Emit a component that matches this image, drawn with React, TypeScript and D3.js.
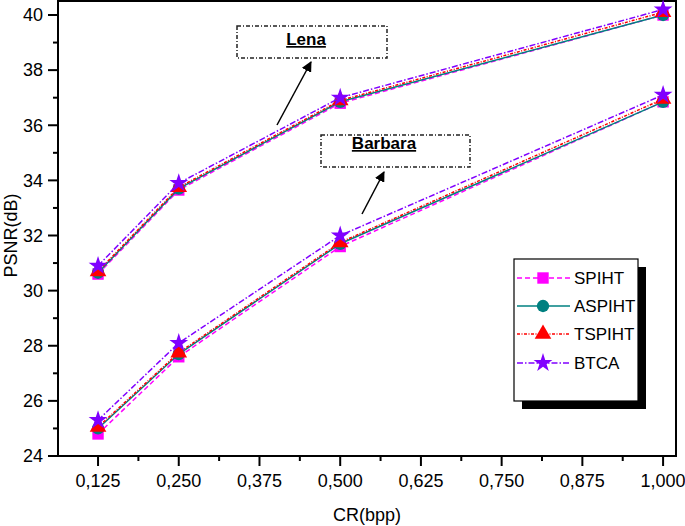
import React from "react";
import * as d3 from "d3";

const crValues = [0.125, 0.25, 0.5, 1.0];
const xTickValues = [0.125, 0.25, 0.375, 0.5, 0.625, 0.75, 0.875, 1.0];
const xTickLabels = ["0,125", "0,250", "0,375", "0,500", "0,625", "0,750", "0,875", "1,000"];
const yTickValues = [24, 26, 28, 30, 32, 34, 36, 38, 40];

const seriesNames = ["SPIHT", "ASPIHT", "TSPIHT", "BTCA"];
const lenaSPIHT = [30.6, 33.65, 36.8, 40.0];
const lenaASPIHT = [30.65, 33.7, 36.85, 40.0];
const lenaTSPIHT = [30.7, 33.75, 36.9, 40.1];
const lenaBTCA = [30.9, 33.9, 37.0, 40.2];
const barbaraSPIHT = [24.8, 27.6, 31.6, 36.85];
const barbaraASPIHT = [25.0, 27.7, 31.7, 36.85];
const barbaraTSPIHT = [25.05, 27.75, 31.75, 36.95];
const barbaraBTCA = [25.3, 28.1, 32.0, 37.1];

const styles = [
  { color: "#ff00ff", dash: "5,3", symbol: d3.symbolSquare, size: 130 },
  { color: "#008080", dash: "none", symbol: d3.symbolCircle, size: 120 },
  { color: "#ff0000", dash: "3,1.5,1,1.5", symbol: d3.symbolTriangle, size: 120 },
  { color: "#8000ff", dash: "6,2,1.5,2", symbol: d3.symbolStar, size: 110 },
];

const lenaData = [lenaSPIHT, lenaASPIHT, lenaTSPIHT, lenaBTCA];
const barbaraData = [barbaraSPIHT, barbaraASPIHT, barbaraTSPIHT, barbaraBTCA];

export default function App() {
  const W = 685, H = 526;
  const left = 58, right = 676, top = 1, bottom = 456;
  const x = d3.scaleLinear().domain([0.063, 1.02]).range([left, right]);
  const y = d3.scaleLinear().domain([24, 40]).range([bottom, 15]);
  const line = d3.line<number>().x((_, i) => x(crValues[i])).y((d) => y(d));
  const font = "'Liberation Sans', Arial, sans-serif";

  const xMinor = d3.range(0.1875, 1.0, 0.125);
  const yMinor = d3.range(25, 40, 2);

  const renderGroup = (data: number[][], key: string) =>
    data.map((vals, si) => {
      const st = styles[si];
      const sym = d3.symbol().type(st.symbol).size(st.size)();
      return (
        <g key={key + si}>
          <path d={line(vals) || ""} fill="none" stroke={st.color} strokeWidth={1.5} strokeDasharray={st.dash} />
          {vals.map((v, i) => (
            <path key={i} d={sym || ""} transform={`translate(${x(crValues[i])},${y(v)})`} fill={st.color} />
          ))}
        </g>
      );
    });

  // legend
  const lgX = 514, lgY = 259, lgW = 124, lgH = 142;
  const lgRows = [278, 306, 334, 363];

  return (
    <svg width={W} height={H} style={{ position: "absolute", left: 0, top: 0, background: "#fff" }}>
      <defs>
        <marker id="arr" viewBox="0 0 10 10" refX="9" refY="5" markerWidth="7" markerHeight="7" orient="auto">
          <path d="M0,0 L10,5 L0,10 z" fill="#000" />
        </marker>
      </defs>
      {/* frame */}
      <rect x={left} y={top} width={right - left} height={bottom - top} fill="none" stroke="#000" strokeWidth={2} />
      {/* x ticks */}
      {xTickValues.map((v, i) => (
        <g key={"xt" + i}>
          <line x1={x(v)} x2={x(v)} y1={bottom} y2={bottom + 10} stroke="#000" strokeWidth={2} />
          <text x={x(v)} y={487} textAnchor="middle" fontFamily={font} fontSize={18} fill="#000">
            {xTickLabels[i]}
          </text>
        </g>
      ))}
      {xMinor.map((v, i) => (
        <line key={"xm" + i} x1={x(v)} x2={x(v)} y1={bottom} y2={bottom + 5} stroke="#000" strokeWidth={2} />
      ))}
      {/* y ticks */}
      {yTickValues.map((v, i) => (
        <g key={"yt" + i}>
          <line x1={left} x2={left - 10} y1={y(v)} y2={y(v)} stroke="#000" strokeWidth={2} />
          <text x={43} y={y(v)} dy="0.35em" textAnchor="end" fontFamily={font} fontSize={18} fill="#000">
            {v}
          </text>
        </g>
      ))}
      {yMinor.map((v, i) => (
        <line key={"ym" + i} x1={left} x2={left - 5} y1={y(v)} y2={y(v)} stroke="#000" strokeWidth={2} />
      ))}
      {/* axis titles */}
      <text x={367} y={521} textAnchor="middle" fontFamily={font} fontSize={18} fill="#000">
        CR(bpp)
      </text>
      <text transform={`translate(17,${(15 + bottom) / 2}) rotate(-90)`} textAnchor="middle" fontFamily={font} fontSize={18} fill="#000">
        PSNR(dB)
      </text>

      {/* annotations */}
      <rect x={237} y={26} width={150} height={32} fill="#fff" stroke="#222" strokeWidth={1.5} strokeDasharray="4,2,1,2" />
      <text x={306} y={45} textAnchor="middle" fontFamily={font} fontSize={17} fontWeight="bold" textDecoration="underline">
        Lena
      </text>
      <line x1={277} y1={125} x2={311} y2={62} stroke="#000" strokeWidth={1.5} markerEnd="url(#arr)" />

      <rect x={321} y={135} width={149} height={32} fill="#fff" stroke="#222" strokeWidth={1.5} strokeDasharray="4,2,1,2" />
      <text x={384} y={149} textAnchor="middle" fontFamily={font} fontSize={17} fontWeight="bold" textDecoration="underline">
        Barbara
      </text>
      <line x1={362} y1={214} x2={384} y2={172} stroke="#000" strokeWidth={1.5} markerEnd="url(#arr)" />

      {renderGroup(lenaData, "l")}
      {renderGroup(barbaraData, "b")}

      {/* legend */}
      <rect x={lgX + 8} y={lgY + 8} width={lgW} height={lgH} fill="#000" />
      <rect x={lgX} y={lgY} width={lgW} height={lgH} fill="#fff" stroke="#000" strokeWidth={1.2} />
      {seriesNames.map((name, i) => {
        const st = styles[i];
        const sym = d3.symbol().type(st.symbol).size(st.size)();
        return (
          <g key={"lg" + i}>
            <line x1={517} x2={570} y1={lgRows[i]} y2={lgRows[i]} stroke={st.color} strokeWidth={1.5} strokeDasharray={st.dash} />
            <path d={sym || ""} transform={`translate(543,${lgRows[i]})`} fill={st.color} />
            <text x={574} y={lgRows[i]} dy="0.36em" fontFamily={font} fontSize={17} fill="#000">
              {name}
            </text>
          </g>
        );
      })}
    </svg>
  );
}
